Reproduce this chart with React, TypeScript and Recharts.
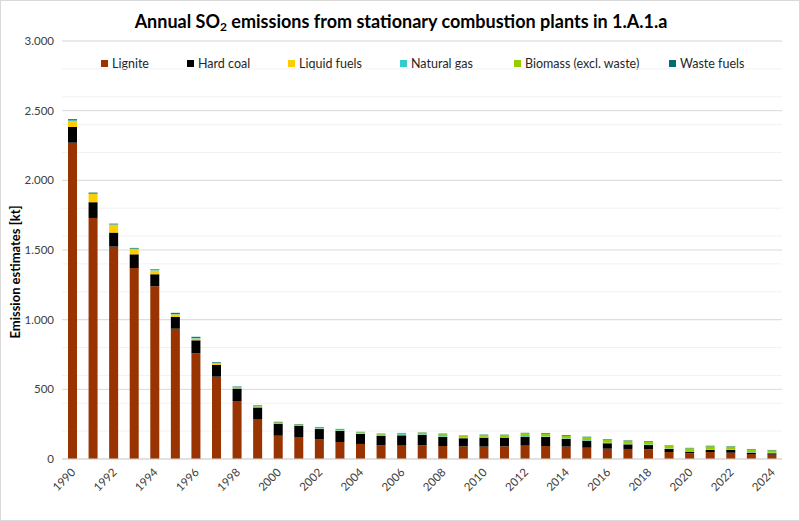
import React from 'react'
import { BarChart, Bar, XAxis, YAxis, CartesianGrid } from 'recharts'

const years = [
    '1990', '1991', '1992', '1993', '1994', '1995', '1996', '1997', '1998', '1999',
    '2000', '2001', '2002', '2003', '2004', '2005', '2006', '2007', '2008', '2009',
    '2010', '2011', '2012', '2013', '2014', '2015', '2016', '2017', '2018', '2019',
    '2020', '2021', '2022', '2023', '2024',
]
const lignite = [
    2270, 1730, 1524, 1371, 1240, 935, 759, 591, 416, 287,
    167, 158, 143, 122, 108, 98, 96, 98, 93, 91,
    89, 91, 96, 93, 89, 81, 74, 72, 70, 50,
    41, 50, 45, 36, 31,
]
const hardCoal = [
    113, 113, 101, 98, 86, 84, 93, 84, 89, 82,
    86, 81, 72, 79, 72, 69, 74, 76, 65, 58,
    64, 62, 64, 65, 55, 50, 39, 33, 30, 22,
    11, 15, 20, 9, 10,
]
const liquidFuels = [
    43, 59, 57, 36, 26, 17, 12, 8, 3, 3,
    2, 2, 3, 2, 4, 2, 2, 2, 1, 1,
    1, 1, 1, 1, 1, 1, 1, 1, 1, 1,
    1, 1, 1, 1, 1,
]
const naturalGas = [
    5, 3, 2, 3, 4, 3, 4, 4, 3, 4,
    3, 3, 4, 4, 4, 5, 6, 3, 5, 4,
    5, 4, 4, 3, 4, 4, 4, 3, 4, 3,
    4, 4, 3, 3, 3,
]
const biomass = [
    0, 0, 0, 2, 2, 2, 1, 2, 5, 6,
    5, 4, 4, 5, 4, 5, 6, 10, 14, 11,
    13, 15, 20, 20, 18, 20, 20, 22, 20, 19,
    20, 21, 20, 20, 17,
]
const wasteFuels = [
    8, 7, 5, 5, 4, 8, 8, 5, 4, 4,
    4, 3, 4, 4, 3, 3, 3, 2, 4, 3,
    3, 2, 3, 5, 5, 4, 4, 3, 4, 3,
    3, 4, 3, 3, 3,
]
const yTicks = [0, 500, 1000, 1500, 2000, 2500, 3000]
const minorTicks = Array.from({ length: 31 }, (_, i) => i * 100)

const SERIES = [
    { key: 'lignite', name: 'Lignite', color: '#993300' },
    { key: 'hardCoal', name: 'Hard coal', color: '#000000' },
    { key: 'liquidFuels', name: 'Liquid fuels', color: '#FFCC00' },
    { key: 'naturalGas', name: 'Natural gas', color: '#33CCCC' },
    { key: 'biomass', name: 'Biomass (excl. waste)', color: '#99CC00' },
    { key: 'wasteFuels', name: 'Waste fuels', color: '#006E6E' },
]
const LEGEND_X = [100, 186, 287, 399, 513, 668]

const data = years.map((year, i) => ({
    year,
    lignite: lignite[i],
    hardCoal: hardCoal[i],
    liquidFuels: liquidFuels[i],
    naturalGas: naturalGas[i],
    biomass: biomass[i],
    wasteFuels: wasteFuels[i],
}))

const FONT = 'Lato, "Liberation Sans", sans-serif'

function fmt(v: number) {
    return v.toLocaleString('de-DE')
}

function YearTick({ x, y, payload }: any) {
    return (
        <text
            x={x + 4}
            y={y + 6}
            textAnchor="end"
            fontSize={11.5}
            fill="#404040"
            fontFamily={FONT}
            transform={`rotate(-45 ${x + 4} ${y + 6})`}
        >
            {payload.value}
        </text>
    )
}

export default function App() {
    return (
        <div
            style={{
                position: 'absolute',
                left: 0,
                top: 0,
                width: 800,
                height: 521,
                background: '#fff',
                border: '1px solid #d9d9d9',
                boxSizing: 'border-box',
                fontFamily: FONT,
            }}
        >
            {/* Title */}
            <div
                style={{
                    position: 'absolute',
                    top: 9,
                    left: 0,
                    width: 800,
                    textAlign: 'center',
                    fontSize: 18,
                    fontWeight: 700,
                    color: '#000',
                }}
            >
                Annual SO<sub style={{ fontSize: 12, verticalAlign: '-3px' }}>2</sub> emissions from stationary combustion plants in 1.A.1.a
            </div>

            {/* Legend */}
            {SERIES.map((s, i) => (
                <div
                    key={s.key}
                    style={{
                        position: 'absolute',
                        top: 55,
                        left: LEGEND_X[i],
                        display: 'flex',
                        alignItems: 'center',
                        fontSize: 12.5,
                        color: '#262626',
                        whiteSpace: 'nowrap',
                    }}
                >
                    <span style={{ width: 7, height: 7, background: s.color, marginRight: 4, display: 'inline-block' }} />
                    {s.name}
                </div>
            ))}

            {/* Y label */}
            <div
                style={{
                    position: 'absolute',
                    left: 14,
                    top: 271,
                    transform: 'translate(-50%, -50%) rotate(-90deg)',
                    fontSize: 13,
                    fontWeight: 700,
                    whiteSpace: 'nowrap',
                    color: '#000',
                }}
            >
                Emission estimates [kt]
            </div>

            <div style={{ position: 'absolute', left: 0, top: 0 }}>
                <BarChart
                    width={800}
                    height={521}
                    data={data}
                    margin={{ top: 40, right: 19, bottom: 0, left: 11 }}
                    barSize={9}
                >
                    <CartesianGrid horizontalValues={minorTicks} vertical={false} stroke="#f2f2f2" />
                    <CartesianGrid horizontalValues={yTicks} vertical={false} stroke="#d9d9d9" />
                    <XAxis
                        dataKey="year"
                        interval={1}
                        height={63}
                        tickLine={false}
                        axisLine={{ stroke: '#d9d9d9' }}
                        tick={<YearTick />}
                    />
                    <YAxis
                        width={50}
                        domain={[0, 3000]}
                        ticks={yTicks}
                        tickFormatter={fmt}
                        axisLine={false}
                        tickLine={false}
                        tick={{ fontSize: 11.5, fill: '#404040', fontFamily: FONT }}
                    />
                    {SERIES.map((s) => (
                        <Bar
                            key={s.key}
                            dataKey={s.key}
                            name={s.name}
                            stackId="a"
                            fill={s.color}
                            isAnimationActive={false}
                        />
                    ))}
                </BarChart>
            </div>
        </div>
    )
}
